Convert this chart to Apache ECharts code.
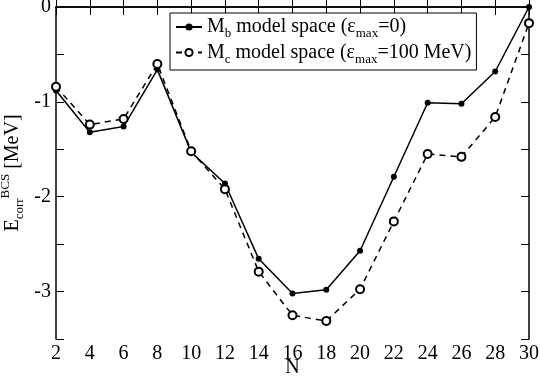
<!DOCTYPE html>
<html lang="en">
<head>
    <meta charset="utf-8">
    <title>BCS correlation energy</title>
    <script src="https://cdn.jsdelivr.net/npm/echarts@6/dist/echarts.min.js"></script>
    <style>
        html, body { margin: 0; padding: 0; background: #fff; }
        #chart { width: 540px; height: 377px; }
    </style>
</head>
<body>
<div id="chart"></div>
<script type="text/javascript">
    // neutron number N
    var nValues = [2, 4, 6, 8, 10, 12, 14, 16, 18, 20, 22, 24, 26, 28, 30];
    // Mb model space (eps_max = 0)
    var mbEnergy = [-0.88, -1.32, -1.26, -0.66, -1.53, -1.86, -2.655, -3.02, -2.98, -2.57, -1.79, -1.01, -1.02, -0.68, 0.0];
    // Mc model space (eps_max = 100 MeV)
    var mcEnergy = [-0.84, -1.24, -1.18, -0.60, -1.52, -1.92, -2.79, -3.25, -3.31, -2.975, -2.26, -1.55, -1.58, -1.16, -0.17];
    var yLabels = [0, -1, -2, -3];

    var font = 'Liberation Serif';
    var legendText = {
        'Mb': '{t|M}{s|b}{t| model space (ε}{s|max}{t|=0)}',
        'Mc': '{t|M}{s|c}{t| model space (ε}{s|max}{t|=100 MeV)}'
    };

    function pairs(ys) {
        return ys.map(function (y, i) { return [nValues[i], y]; });
    }

    var myChart = echarts.init(document.getElementById('chart'));
    var tickIn = {show: true, inside: true, length: 8, lineStyle: {color: '#000', width: 1}};
    var axisLine = {show: true, lineStyle: {color: '#000', width: 1.5}};

    var option = {
        backgroundColor: '#fff',
        animation: false,
        grid: {left: 56, right: 11, top: 7, bottom: 38, outerBoundsMode: 'none', containLabel: false},
        legend: {
            left: 170,
            top: 13,
            orient: 'vertical',
            padding: [4, 5, 4, 5],
            itemGap: 2,
            itemWidth: 26,
            itemHeight: 9,
            borderColor: '#000',
            borderWidth: 1,
            backgroundColor: '#fff',
            data: ['Mb', 'Mc'],
            formatter: function (name) { return legendText[name]; },
            textStyle: {
                rich: {
                    t: {fontFamily: font, fontSize: 20, color: '#000', lineHeight: 27},
                    s: {fontFamily: font, fontSize: 13, color: '#000', verticalAlign: 'bottom', padding: [9, 0, 0, 0]}
                }
            }
        },
        xAxis: [{
            type: 'value',
            min: 2,
            max: 30,
            interval: 2,
            name: 'N',
            nameLocation: 'middle',
            nameMoveOverlap: false,
            nameGap: 19,
            nameTextStyle: {fontFamily: font, fontSize: 20, color: '#000'},
            axisLine: axisLine,
            axisTick: tickIn,
            splitLine: {show: false},
            axisLabel: {fontFamily: font, fontSize: 20, color: '#000', margin: 5}
        }, {
            type: 'value',
            position: 'top',
            min: 2,
            max: 30,
            interval: 2,
            axisLine: axisLine,
            axisTick: tickIn,
            splitLine: {show: false},
            axisLabel: {show: false}
        }],
        yAxis: [{
            type: 'value',
            min: -3.5,
            max: 0,
            interval: 0.5,
            name: '{e|E}{s|corr}{p|BCS}{e| [MeV]}',
            nameLocation: 'middle',
            nameMoveOverlap: false,
            nameGap: 30,
            nameTextStyle: {
                rich: {
                    e: {fontFamily: font, fontSize: 20, color: '#000'},
                    s: {fontFamily: font, fontSize: 13, color: '#000', verticalAlign: 'bottom', padding: [10, 0, 0, 0]},
                    p: {fontFamily: font, fontSize: 13, color: '#000', verticalAlign: 'top', padding: [0, 0, 14, 0]}
                }
            },
            axisLine: axisLine,
            axisTick: tickIn,
            splitLine: {show: false},
            axisLabel: {
                fontFamily: font, fontSize: 20, color: '#000', margin: 5,
                formatter: function (v) {
                    return yLabels.indexOf(v) >= 0 ? String(v) : '';
                }
            }
        }, {
            type: 'value',
            position: 'right',
            min: -3.5,
            max: 0,
            interval: 0.5,
            axisLine: axisLine,
            axisTick: tickIn,
            splitLine: {show: false},
            axisLabel: {show: false}
        }],
        series: [{
            name: 'Mb',
            type: 'line',
            data: pairs(mbEnergy),
            symbol: 'circle',
            symbolSize: 6,
            itemStyle: {color: '#000'},
            lineStyle: {color: '#000', width: 1.5}
        }, {
            name: 'Mc',
            type: 'line',
            data: pairs(mcEnergy),
            symbol: 'emptyCircle',
            symbolSize: 8,
            itemStyle: {color: '#000', borderColor: '#000', borderWidth: 1},
            lineStyle: {color: '#000', width: 1.5, type: [6, 5]}
        }]
    };
    myChart.setOption(option);
</script>
</body>
</html>
